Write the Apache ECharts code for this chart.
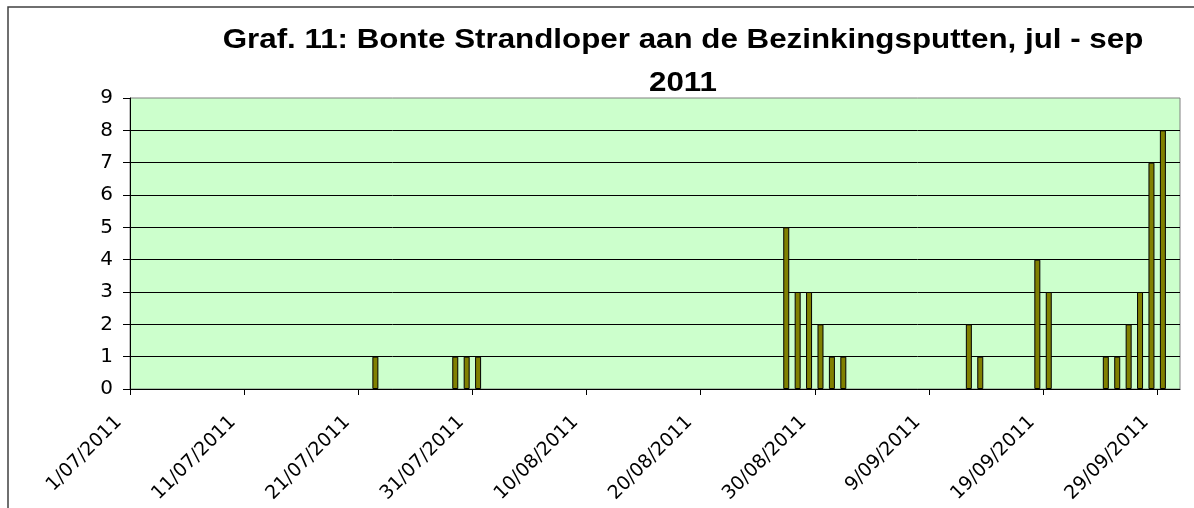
<!DOCTYPE html>
<html>
<head>
<meta charset="utf-8">
<script src="https://cdn.jsdelivr.net/npm/echarts@6/dist/echarts.min.js"></script>
<style>
html,body{margin:0;padding:0;background:#fff;}
#chart{width:1194px;height:508px;}
</style>
</head>
<body>
<div id="chart"></div>
<script>
// ---- data ----
const titleLine1 = 'Graf. 11: Bonte Strandloper aan de Bezinkingsputten, jul - sep';
const titleLine2 = '2011';
const axisStart = [2011, 6, 1];   // 1/07/2011
const axisDays = 92;              // through 1/10/2011
const obsDates = ['2011-07-22','2011-07-29','2011-07-30','2011-07-31',
  '2011-08-27','2011-08-28','2011-08-29','2011-08-30','2011-08-31','2011-09-01',
  '2011-09-12','2011-09-13','2011-09-18','2011-09-19',
  '2011-09-24','2011-09-25','2011-09-26','2011-09-27','2011-09-28','2011-09-29'];
const counts = [1,1,1,1, 5,3,3,2,1,1, 2,1,4,3, 1,1,2,3,7,8];
const tickLabels = ['1/07/2011','11/07/2011','21/07/2011','31/07/2011','10/08/2011',
  '20/08/2011','30/08/2011','9/09/2011','19/09/2011','29/09/2011'];
const yTicks = [0,1,2,3,4,5,6,7,8,9];

// ---- build ----
const startMs = Date.UTC(axisStart[0], axisStart[1], axisStart[2]);
function dayIndex(s){
  const p = s.split('-').map(Number);
  return (Date.UTC(p[0], p[1]-1, p[2]) - startMs) / 86400000;
}
// each day occupies one unit; the bar sits in the middle of its day slot
const seriesData = obsDates.map((d,i) => [dayIndex(d) + 0.5, counts[i]]);

const chart = echarts.init(document.getElementById('chart'), null, {renderer:'canvas'});
chart.setOption({
  backgroundColor: '#ffffff',
  animation: false,
  graphic: [
    {type:'rect', shape:{x:8, y:7, width:1400, height:800},
     style:{fill:'none', stroke:'#404040', lineWidth:1.5}, z:-10},
    {type:'text', x:683, y:41, scaleX:1.16, originX:0, originY:0,
     style:{text:titleLine1, fontFamily:'Liberation Sans, Arial, sans-serif', fontWeight:'bold',
            fontSize:27, fill:'#000', align:'center', verticalAlign:'middle'}},
    {type:'text', x:683, y:84, scaleX:1.16, originX:0, originY:0,
     style:{text:titleLine2, fontFamily:'Liberation Sans, Arial, sans-serif', fontWeight:'bold',
            fontSize:27, fill:'#000', align:'center', verticalAlign:'middle'}}
  ],
  grid: {left:130, top:98, right:14, bottom:119, show:true, containLabel:false,
         outerBoundsMode:'none',
         backgroundColor:'#CCFFCC', borderColor:'#808080', borderWidth:1},
  xAxis: {
    type:'value', min:0, max:axisDays, interval:10,
    axisLine:{show:true, onZero:false, lineStyle:{color:'#000', width:1}},
    axisTick:{show:true, inside:false, length:6, lineStyle:{color:'#000'}},
    splitLine:{show:false},
    axisLabel:{
      rotate:45, margin:19, showMaxLabel:false, padding:[0,16,0,0],
      fontFamily:'DejaVu Sans, sans-serif', fontSize:19, color:'#000',
      formatter: v => { const k = Math.round(v/10); return (v % 10 === 0 && tickLabels[k]) ? tickLabels[k] : ''; }
    }
  },
  yAxis: {
    type:'value', min:yTicks[0], max:yTicks[yTicks.length-1], interval:1,
    axisLine:{show:true, lineStyle:{color:'#000', width:1}},
    axisTick:{show:true, inside:false, length:7, lineStyle:{color:'#000'}},
    splitLine:{show:true, showMaxLine:false, lineStyle:{color:'#000', width:1}},
    axisLabel:{margin:17, fontFamily:'DejaVu Sans, sans-serif', fontSize:20, color:'#000'}
  },
  series: [{
    type:'bar', data:seriesData, barWidth:6,
    itemStyle:{color:'#808000', borderColor:'#000', borderWidth:1}
  }]
});
</script>
</body>
</html>
